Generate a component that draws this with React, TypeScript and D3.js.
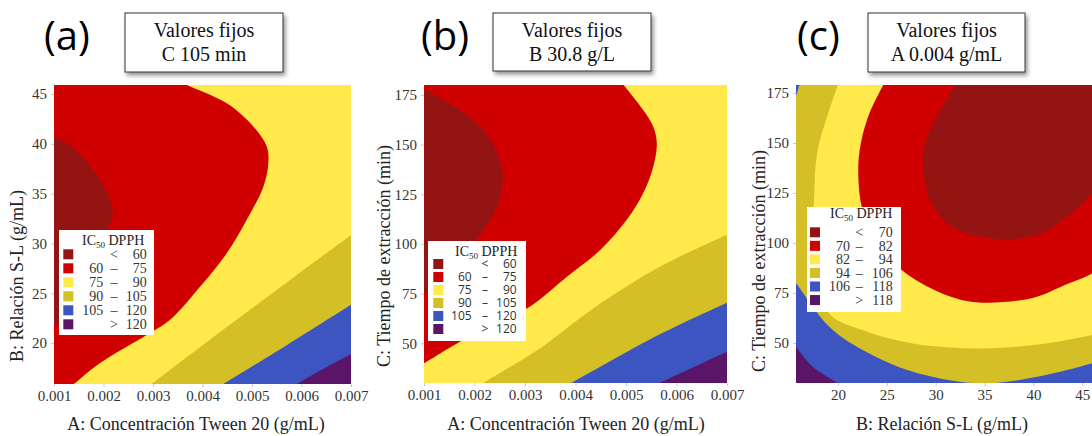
import React, { useEffect, useRef } from 'react';
import * as d3 from 'd3';

type Pt = [number, number];

// colours of the six IC50 classes, lowest first
const levelColors = ['#941414', '#d10000', '#ffe94b', '#d4bf26', '#3c55c1', '#5a1568'];

// class breaks shown in the legends
const breaksAB = [60, 75, 90, 105, 120];
const breaksC = [70, 82, 94, 106, 118];

// tick values
const tweenTicks = [0.001, 0.002, 0.003, 0.004, 0.005, 0.006, 0.007];
const slTicks = [20, 25, 30, 35, 40, 45];
const timeTicks = [50, 75, 100, 125, 150, 175];

// panel (a): Tween (g/mL) vs S-L ratio, contour lines
const a60: Pt[] = [[0.00095, 40.75], [0.00132, 39.88], [0.00163, 38.38], [0.00193, 36.37], [0.00213, 34.36], [0.00219, 33.1], [0.00215, 32.2], [0.00206, 31.35], [0.0019, 28.5], [0.0017, 26.0], [0.00145, 23.8], [0.0012, 22.4], [0.00095, 21.7]];
const a75: Pt[] = [[0.00352, 46.3], [0.00368, 45.9], [0.00449, 44.06], [0.00503, 41.72], [0.0053, 39.71], [0.00533, 38.04], [0.00523, 35.7], [0.00489, 32.35], [0.00449, 29.01], [0.00395, 25.66], [0.00334, 22.32], [0.00287, 20.82], [0.00193, 18.0], [0.00142, 15.97], [0.0013, 15.5]];
const a90: Pt[] = [[0.00705, 31.0], [0.006, 27.2], [0.005, 23.5], [0.004, 19.8], [0.00289, 15.6]];
const a105: Pt[] = [[0.00705, 24.0], [0.0057, 19.8], [0.00432, 15.6]];
const a120: Pt[] = [[0.00705, 19.05], [0.0064, 17.3], [0.0058, 15.6]];

// panel (b): Tween (g/mL) vs time (min)
const b60: Pt[] = [[0.00095, 178.5], [0.00171, 167.4], [0.00224, 155.7], [0.0025, 142.2], [0.00256, 133.8], [0.0025, 122.1], [0.00231, 112.1], [0.00198, 100.3], [0.0017, 91], [0.00145, 83], [0.0012, 78], [0.00095, 74.8]];
const b75: Pt[] = [[0.00488, 182], [0.00495, 180], [0.00534, 167.4], [0.00554, 159], [0.00561, 150.6], [0.00554, 138.9], [0.00534, 125.5], [0.00501, 112], [0.00449, 96.9], [0.00383, 83.5], [0.0031, 68.5], [0.00237, 59], [0.00175, 51.3], [0.001, 39.9], [0.00093, 38.8]];
const b90: Pt[] = [[0.00705, 105.2], [0.00567, 88.5], [0.00435, 67.5], [0.0033, 47.5], [0.00217, 30], [0.00205, 28]];
const b105: Pt[] = [[0.00705, 71], [0.00567, 54.5], [0.00392, 30], [0.00385, 29]];
const b120: Pt[] = [[0.00705, 46.3], [0.00567, 30], [0.0056, 29]];

// panel (c): S-L ratio vs time (min)
const c70: Pt[] = [[32.1, 180.5], [31.97, 179], [29.59, 158.2], [28.73, 146.5], [28.73, 138.2], [29.42, 121.5], [31.64, 108.2], [36.4, 101.9], [40.85, 104.9], [44.26, 116.5], [46, 124.9], [46.4, 127]];
const c82: Pt[] = [[24.9, 181], [24.64, 179], [23.07, 163], [22.22, 146.5], [22.08, 133.2], [22.43, 118.2], [23.79, 101.5], [26.52, 86.5], [30.61, 74.9], [34.11, 70.4], [39.8, 72.4], [43.23, 79], [46, 84.8], [46.4, 86.5]];
const c94: Pt[] = [[20.1, 181], [19.97, 179], [17.92, 146.3], [17.57, 124.7], [17.5, 106.8], [17.95, 86.9], [19.1, 64.8], [22.5, 56.5], [27.65, 49.8], [34.81, 47.3], [41.29, 49.8], [46, 54], [46.4, 54.5]];
const c106Low: Pt[] = [[15.3, 82], [15.7, 79.85], [19.1, 58.15], [22.53, 46.5], [27.65, 35.65], [34.81, 29.8], [41.29, 34], [46, 39.85], [46.4, 40.5]];
const c106Top: Pt[] = [[16.12, 180.2], [15.88, 176.3], [15.5, 170.5]];
const c118: Pt[] = [[15.3, 50.5], [15.7, 48.15], [17.41, 38.15], [19.97, 30], [20.4, 28.5]];

const serif = 'Liberation Serif, DejaVu Serif, Times New Roman, serif';
const sans = 'Open Sans, Noto Sans, sans-serif';

type Seg = Pt[] | string;

const panels = [
  {
    tag: '(a)', tagX: 44,
    fixed: ['Valores fijos', 'C 105 min'], box: { x: 125, y: 13, w: 158, h: 59 },
    plot: { l: 54, r: 351, t: 85, b: 384 },
    xDomain: [0.001, 0.007], yDomain: [15.9, 45.9],
    xTicks: tweenTicks, yTicks: slTicks, xFmt: d3.format('.3f'),
    xTitle: 'A: Concentración Tween 20 (g/mL)', xTitleX: 196,
    yTitle: 'B: Relación S-L (g/mL)', yTitleX: 23, yTitleY: 276,
    regions: [[a120, 'bl', 'tl', 'tr'], [a105, 'bl', 'tl', 'tr'], [a90, 'bl', 'tl', 'tr'], [a75, 'bl', 'tl'], [a60]] as Seg[][],
    breaks: breaksAB,
    legend: { x: 59, y: 230, w: 95, h: 105, titleX: 82, titleY: 245, row0: 254.3, step: 14, sw: 63.3, lowEnd: 103.3, sym: 114, highEnd: 146.7, font: serif, size: 14 },
  },
  {
    tag: '(b)', tagX: 421,
    fixed: ['Valores fijos', 'B 30.8 g/L'], box: { x: 493, y: 13, w: 158, h: 58 },
    plot: { l: 424, r: 727, t: 85, b: 383 },
    xDomain: [0.001, 0.007], yDomain: [30, 180],
    xTicks: tweenTicks, yTicks: timeTicks, xFmt: d3.format('.3f'),
    xTitle: 'A: Concentración Tween 20 (g/mL)', xTitleX: 576,
    yTitle: 'C: Tiempo de extracción (min)', yTitleX: 390, yTitleY: 256,
    regions: [[b120, 'bl', 'tl', 'tr'], [b105, 'bl', 'tl', 'tr'], [b90, 'bl', 'tl', 'tr'], [b75, 'tl'], [b60]] as Seg[][],
    breaks: breaksAB,
    legend: { x: 428, y: 241, w: 98, h: 100, titleX: 455, titleY: 256, row0: 264, step: 13, sw: 433.3, lowEnd: 471.7, sym: 485, highEnd: 516.7, font: sans, size: 12 },
  },
  {
    tag: '(c)', tagX: 797,
    fixed: ['Valores fijos', 'A 0.004 g/mL'], box: { x: 868, y: 13, w: 157, h: 59 },
    plot: { l: 796, r: 1092, t: 85, b: 383 },
    xDomain: [15.7, 46], yDomain: [30, 179],
    xTicks: slTicks, yTicks: timeTicks, xFmt: d3.format('d'),
    xTitle: 'B: Relación S-L (g/mL)', xTitleX: 942,
    yTitle: 'C: Tiempo de extracción (min)', yTitleX: 764.5, yTitleY: 261,
    regions: [[c118, 'br', 'tr', 'tl'], [c106Low, 'tr', c106Top], [c94, 'tr'], [c82, 'tr'], [c70, 'tr']] as Seg[][],
    breaks: breaksC,
    legend: { x: 807, y: 207, w: 94, h: 105, titleX: 830, titleY: 218.3, row0: 232.3, step: 13.55, sw: 810, lowEnd: 850, sym: 859.3, highEnd: 892.7, font: serif, size: 14 },
  },
];

function App() {
  const ref = useRef<SVGSVGElement>(null);

  useEffect(() => {
    const svg = d3.select(ref.current);
    svg.selectAll('*').remove();

    const defs = svg.append('defs');
    defs.append('filter').attr('id', 'shadow')
      .attr('x', '-10%').attr('y', '-10%').attr('width', '130%').attr('height', '140%')
      .append('feDropShadow')
      .attr('dx', 2).attr('dy', 3).attr('stdDeviation', 2)
      .attr('flood-color', '#777').attr('flood-opacity', 0.8);

    panels.forEach((p, pi) => {
      const x = d3.scaleLinear().domain(p.xDomain).range([p.plot.l, p.plot.r]);
      const y = d3.scaleLinear().domain(p.yDomain).range([p.plot.b, p.plot.t]);

      // corners a bit outside the plot, the clip path trims them
      const dx = (p.xDomain[1] - p.xDomain[0]) * 0.05;
      const dy = (p.yDomain[1] - p.yDomain[0]) * 0.05;
      const corners: Record<string, Pt> = {
        bl: [p.xDomain[0] - dx, p.yDomain[0] - dy],
        tl: [p.xDomain[0] - dx, p.yDomain[1] + dy],
        tr: [p.xDomain[1] + dx, p.yDomain[1] + dy],
        br: [p.xDomain[1] + dx, p.yDomain[0] - dy],
      };

      const line = d3.line<Pt>()
        .x(d => x(d[0]))
        .y(d => y(d[1]))
        .curve(d3.curveCatmullRom.alpha(0.5));

      const regionPath = (segs: Seg[]) => {
        let out = '';
        segs.forEach(s => {
          if (typeof s === 'string') {
            const c = corners[s];
            out += (out ? 'L' : 'M') + x(c[0]) + ',' + y(c[1]);
          } else {
            const d = line(s) || '';
            out += out ? 'L' + d.slice(1) : d;
          }
        });
        return out + 'Z';
      };

      const clipId = 'clip' + pi;
      defs.append('clipPath').attr('id', clipId)
        .append('rect')
        .attr('x', p.plot.l).attr('y', p.plot.t)
        .attr('width', p.plot.r - p.plot.l).attr('height', p.plot.b - p.plot.t);

      const g = svg.append('g').attr('clip-path', `url(#${clipId})`);

      // highest class is the background, lower classes painted on top
      g.append('rect')
        .attr('x', p.plot.l).attr('y', p.plot.t)
        .attr('width', p.plot.r - p.plot.l).attr('height', p.plot.b - p.plot.t)
        .attr('fill', levelColors[5]);

      p.regions.forEach((segs, i) => {
        g.append('path')
          .attr('d', regionPath(segs))
          .attr('fill', levelColors[4 - i]);
      });

      // axes
      const xAxis = svg.append('g')
        .attr('transform', `translate(0,${p.plot.b})`)
        .call(d3.axisBottom(x).tickValues(p.xTicks).tickFormat(p.xFmt as any).tickSize(3).tickPadding(3.5));
      const yAxis = svg.append('g')
        .attr('transform', `translate(${p.plot.l},0)`)
        .call(d3.axisLeft(y).tickValues(p.yTicks).tickFormat(d3.format('d') as any).tickSize(3).tickPadding(4));
      [xAxis, yAxis].forEach(ax => {
        ax.attr('font-family', serif).attr('font-size', 15);
        ax.select('.domain').remove();
        ax.selectAll('line').attr('stroke', '#c8c8c8');
        ax.selectAll('text').attr('fill', '#333');
      });

      svg.append('text')
        .attr('x', p.xTitleX).attr('y', 430)
        .attr('text-anchor', 'middle')
        .attr('font-family', serif).attr('font-size', 18)
        .attr('fill', '#222')
        .text(p.xTitle);

      svg.append('text')
        .attr('transform', `translate(${p.yTitleX},${p.yTitleY}) rotate(-90)`)
        .attr('text-anchor', 'middle')
        .attr('font-family', serif).attr('font-size', 18)
        .attr('fill', '#222')
        .text(p.yTitle);

      // legend
      const L = p.legend;
      const lg = svg.append('g');
      lg.append('rect')
        .attr('x', L.x).attr('y', L.y).attr('width', L.w).attr('height', L.h)
        .attr('fill', 'white');
      const title = lg.append('text')
        .attr('x', L.titleX).attr('y', L.titleY)
        .attr('font-family', serif).attr('font-size', 14)
        .attr('fill', '#222');
      title.append('tspan').text('IC');
      title.append('tspan').attr('dy', 3).attr('font-size', 9).text('50');
      title.append('tspan').attr('dy', -3).text(' DPPH');

      levelColors.forEach((col, i) => {
        const cy = L.row0 + i * L.step;
        lg.append('rect')
          .attr('x', L.sw).attr('y', cy - 5)
          .attr('width', 10).attr('height', 10)
          .attr('fill', col);
        const low = i === 0 || i === 5 ? '' : String(p.breaks[i - 1]);
        const sym = i === 0 ? '<' : i === 5 ? '>' : '–';
        const high = String(p.breaks[Math.min(i, 4)]);
        const txt = (tx: number, anchor: string, s: string) => lg.append('text')
          .attr('x', tx).attr('y', cy + L.size * 0.35)
          .attr('text-anchor', anchor)
          .attr('font-family', L.font).attr('font-size', L.size)
          .attr('fill', '#333')
          .text(s);
        if (low) txt(L.lowEnd, 'end', low);
        txt(L.sym, 'middle', sym);
        txt(L.highEnd, 'end', high);
      });

      // fixed value box and panel tag
      svg.append('rect')
        .attr('x', p.box.x).attr('y', p.box.y).attr('width', p.box.w).attr('height', p.box.h)
        .attr('fill', 'white').attr('stroke', '#333').attr('stroke-width', 1)
        .attr('filter', 'url(#shadow)');
      p.fixed.forEach((s, i) => {
        svg.append('text')
          .attr('x', p.box.x + p.box.w / 2).attr('y', 37 + i * 24)
          .attr('text-anchor', 'middle')
          .attr('font-family', serif).attr('font-size', 20)
          .attr('fill', '#111')
          .text(s);
      });
      svg.append('text')
        .attr('x', p.tagX).attr('y', 50)
        .attr('font-family', sans).attr('font-size', 40)
        .attr('fill', '#000')
        .text(p.tag);
    });
  }, []);

  return (
    <svg ref={ref} width={1092} height={436}
      style={{ position: 'absolute', left: 0, top: 0, background: 'white' }} />
  );
}

export default App;
